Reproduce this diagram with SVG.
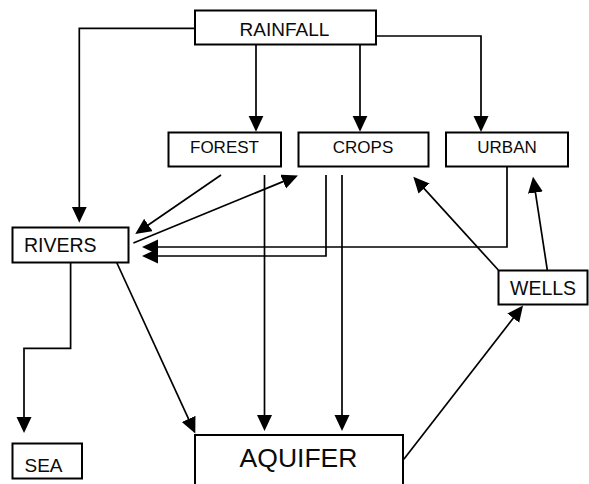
<svg xmlns="http://www.w3.org/2000/svg" width="589" height="484" viewBox="0 0 589 484">
  <style>
    .box { fill: #ffffff; stroke: #000000; stroke-width: 2; }
    .lbl { font-family: "Liberation Sans", Arial, sans-serif; fill: #0a0a0a; }
    .mid { text-anchor: middle; }
    .flow { fill: none; stroke: #000000; stroke-width: 1.7; marker-end: url(#head); }
  </style>
  <defs>
    <marker id="head" markerUnits="userSpaceOnUse" markerWidth="18" markerHeight="18" refX="13" refY="7.5" orient="auto">
      <path d="M0,0 L16,7.5 L0,15 z" fill="#000000"/>
    </marker>
  </defs>
  <rect width="589" height="484" fill="#ffffff"/>

  <!-- flows between the water stores -->
  <g id="connectors">
    <path class="flow" d="M195,28.3 H79.3 V219.7"/>
    <path class="flow" d="M256,44.5 V128.7"/>
    <path class="flow" d="M360,44.5 V128.7"/>
    <path class="flow" d="M376,36 H481 V129"/>
    <path class="flow" d="M221,175 L137.7,232.3"/>
    <path class="flow" d="M133.4,243 L295.2,176.6"/>
    <path class="flow" d="M264.5,175 V428"/>
    <path class="flow" d="M326,175 V256 H145"/>
    <path class="flow" d="M342,175 V428"/>
    <path class="flow" d="M507,166.5 V247 H145"/>
    <path class="flow" d="M498.3,270 L415.3,178.9"/>
    <path class="flow" d="M547.3,270 L533.45,179.7"/>
    <path class="flow" d="M116.7,262.5 L194.05,430.8"/>
    <path class="flow" d="M70.6,262.5 V348.3 H24 V430"/>
    <path class="flow" d="M403.8,459.3 L521.2,307.9"/>
  </g>

  <g id="rainfall">
    <rect class="box" x="195" y="10.5" width="181" height="34"/>
    <text class="lbl mid" x="284.5" y="36" font-size="19">RAINFALL</text>
  </g>
  <g id="forest">
    <rect class="box" x="168.5" y="132.5" width="112.5" height="34"/>
    <text class="lbl mid" x="224.5" y="153.3" font-size="17">FOREST</text>
  </g>
  <g id="crops">
    <rect class="box" x="298.5" y="132.5" width="130" height="34"/>
    <text class="lbl mid" x="363" y="153.3" font-size="17">CROPS</text>
  </g>
  <g id="urban">
    <rect class="box" x="446" y="132.5" width="122" height="34"/>
    <text class="lbl mid" x="507" y="153.3" font-size="17">URBAN</text>
  </g>
  <g id="rivers">
    <rect class="box" x="12.5" y="227.5" width="116" height="35"/>
    <text class="lbl" x="24" y="251.7" font-size="19.5">RIVERS</text>
  </g>
  <g id="wells">
    <rect class="box" x="498.5" y="270.5" width="89" height="34"/>
    <text class="lbl" x="510" y="295" font-size="19.5">WELLS</text>
  </g>
  <g id="sea">
    <rect class="box" x="12.5" y="443.5" width="69.5" height="35"/>
    <text class="lbl" x="24.5" y="471.5" font-size="19">SEA</text>
  </g>
  <g id="aquifer">
    <rect class="box" x="195" y="435" width="208" height="60"/>
    <text class="lbl mid" x="298.5" y="466.7" font-size="26.5">AQUIFER</text>
  </g>
</svg>
